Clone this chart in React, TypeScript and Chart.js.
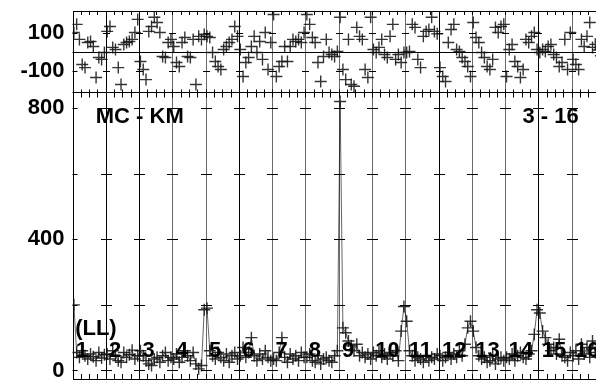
import React, { useEffect, useRef } from 'react';
import { Chart, registerables } from 'chart.js';
Chart.register(...registerables);

const SEGMENTS = 16;
const PER_SEG = 12;
const segmentLabels = ['1', '2', '3', '4', '5', '6', '7', '8', '9', '10', '11', '12', '13', '14', '15', '16'];
const titleLeft = 'MC - KM';
const titleRight = '3 - 16';
const sideNote = '(LL)';

// observed intensity, 12 samples per segment
const intensity = [
  200, 55, 40, 60, 45, 35, 50, 42, 30, 55, 38, 48,
  50, 35, 60, 45, 30, 25, 55, 40, 48, 62, 35, 45,
  60, 45, 30, 20, 15, 35, 40, 25, 45, 55, 30, 40,
  35, 50, 25, 40, 60, 45, 30, 55, 20, 5, 15, 185,
  190, 60, 45, 35, 55, 40, 30, 50, 25, 45, 55, 35,
  45, 70, 40, 55, 100, 45, 30, 50, 35, 60, 40, 30,
  35, 30, 55, 100, 40, 25, 50, 35, 45, 30, 55, 40,
  40, 50, 30, 25, 45, 20, 35, 40, 30, 25, 45, 60,
  820, 130, 115, 90, 75, 60, 80, 45, 55, 40, 50, 35,
  55, 45, 60, 40, 50, 35, 55, 45, 60, 30, 120, 195,
  150, 60, 45, 30, 40, 35, 25, 45, 30, 40, 35, 50,
  45, 30, 40, 55, 35, 50, 40, 60, 45, 80, 130, 150,
  120, 70, 45, 35, 40, 25, 30, 45, 20, 35, 40, 30,
  40, 35, 50, 30, 45, 55, 40, 35, 50, 60, 110, 185,
  175, 120, 100, 80, 60, 70, 50, 95, 45, 40, 30, 55,
  45, 60, 35, 80, 50, 70, 40, 90, 55, 45, 60, 50,
];

// residuals, 12 samples per segment
const residual = [
  102, 145, 66, -66, -82, 50, 55, 29, -134, -29, -39, -3,
  108, 134, 24, 13, -82, -171, 39, 50, 55, 66, 102, 171,
  -50, -92, -145, 108, 134, 182, 155, 102, -24, -29, 50, 66,
  29, -55, -76, 50, 76, -24, -29, 66, -171, 82, 66, 92,
  82, 76, -3, -50, -76, -92, 13, 29, 50, 66, 134, 82,
  13, -129, -55, -29, 29, 82, -3, 55, -39, 102, -92, 50,
  197, -129, -76, -50, 29, -50, 29, 66, 55, 66, 50, 102,
  197, 145, 76, 50, -55, -155, -24, 66, -3, -13, -24, 3,
  182, -92, -145, 66, -171, -180, 129, 82, 66, -92, -134, 182,
  13, -3, 24, 66, -13, -29, 82, 145, -39, -13, -55, -3,
  -3, 3, 145, 129, -39, -82, 82, 108, 118, 182, 108, 95,
  -82, -129, -155, 50, 118, 145, 13, 3, -29, -50, -76, -129,
  155, 76, 50, -3, -29, -76, -92, -39, 129, 102, 134, 145,
  -129, 13, 39, -50, -76, -134, -92, 66, 50, 82, 102, 13,
  -3, 13, 3, 29, 39, -13, -29, -76, -55, 66, -92, 102,
  -39, -66, -92, 66, 29, 82, 155, 24, 40, 10, -20, 30,
];

const botTicks = [0, 400, 800];
const botMarks = [0, 200, 400, 600, 800];
const topTicks = [-100, 100];

const xOf = (i: number) => Math.floor(i / PER_SEG) + ((i % PER_SEG) + 0.5) / PER_SEG;

const FONT = { family: '"Liberation Sans", Arial, sans-serif', weight: 'bold' as const, size: 22, lineHeight: 0.6 };

const framePlugin = {
  id: 'frame',
  beforeDatasetsDraw(chart: any) {
    const { ctx, chartArea } = chart;
    const xs = chart.scales.x;
    const yt = chart.scales.yTop;
    const yb = chart.scales.yBot;
    const L = chartArea.left, R = chartArea.right, T = chartArea.top, B = chartArea.bottom;
    const mid = Math.round(yt.bottom) + 0.5;
    ctx.save();
    ctx.lineWidth = 1;
    const dark = [true, true, false, false, true, false, false, false, false, false, true, false, false, true, false];
    for (let k = 1; k < SEGMENTS; k++) {
      const x = Math.round(xs.getPixelForValue(k)) + 0.5;
      ctx.strokeStyle = dark[k - 1] ? '#000' : '#6a6a6a';
      ctx.beginPath();
      ctx.moveTo(x, T);
      ctx.lineTo(x, B);
      ctx.stroke();
    }
    ctx.strokeStyle = '#000';
    const y0 = Math.round(yt.getPixelForValue(0)) + 0.5;
    ctx.beginPath();
    ctx.moveTo(L, y0);
    ctx.lineTo(R, y0);
    ctx.stroke();
    ctx.strokeRect(Math.round(L) + 0.5, Math.round(T) + 0.5, Math.round(R - L), Math.round(B - T));
    ctx.beginPath();
    ctx.moveTo(L, mid);
    ctx.lineTo(R, mid);
    ctx.stroke();
    ctx.beginPath();
    for (let v = 0; v <= SEGMENTS; v += 0.25) {
      const x = Math.round(xs.getPixelForValue(v)) + 0.5;
      ctx.moveTo(x, T);
      ctx.lineTo(x, T + 4);
      ctx.moveTo(x, mid - 3);
      ctx.lineTo(x, mid + 5);
      ctx.moveTo(x, B - 5);
      ctx.lineTo(x, B);
    }
    ctx.stroke();
    ctx.beginPath();
    for (const v of botMarks) {
      const y = Math.round(yb.getPixelForValue(v)) + 0.5;
      ctx.moveTo(L, y);
      ctx.lineTo(L + 5, y);
      for (let k = 1; k < SEGMENTS; k++) {
        const x = Math.round(xs.getPixelForValue(k));
        ctx.moveTo(x - 5, y);
        ctx.lineTo(x + 6, y);
      }
    }
    for (const v of topTicks) {
      const y = Math.round(yt.getPixelForValue(v)) + 0.5;
      ctx.moveTo(L, y);
      ctx.lineTo(L + 5, y);
      for (let k = 1; k < SEGMENTS; k++) {
        const x = Math.round(xs.getPixelForValue(k));
        ctx.moveTo(x - 3, y);
        ctx.lineTo(x + 4, y);
      }
    }
    ctx.stroke();
    ctx.restore();
  },
  afterDatasetsDraw(chart: any) {
    const { ctx } = chart;
    const xs = chart.scales.x;
    const yb = chart.scales.yBot;
    ctx.save();
    ctx.fillStyle = '#000';
    ctx.font = `bold ${FONT.size}px ${FONT.family}`;
    ctx.textBaseline = 'middle';
    ctx.textAlign = 'left';
    ctx.fillText(titleLeft, xs.getPixelForValue(0.7), yb.getPixelForValue(773));
    ctx.fillText(titleRight, xs.getPixelForValue(13.52), yb.getPixelForValue(773));
    ctx.fillText(sideNote, xs.getPixelForValue(0.08), yb.getPixelForValue(128));
    segmentLabels.forEach((s, k) => {
      ctx.fillText(s, xs.getPixelForValue(k + 0.1), yb.getPixelForValue(61));
    });
    ctx.restore();
  },
};

const noPad = (s: any) => {
  s.width = 72.5;
  s.paddingTop = 0;
  s.paddingBottom = 0;
};

export default function App() {
  const ref = useRef<HTMLCanvasElement>(null);
  useEffect(() => {
    if (!ref.current) return;
    const chart = new Chart(ref.current, {
      type: 'scatter',
      data: {
        datasets: [
          {
            label: 'intensity',
            data: intensity.map((v, i) => ({ x: xOf(i), y: v })),
            yAxisID: 'yBot',
            showLine: true,
            borderColor: 'rgba(0,0,0,0.6)',
            borderWidth: 1,
            pointStyle: 'cross',
            pointRadius: 6,
            pointBorderWidth: 1.4,
            pointBorderColor: 'rgba(17,17,17,0.85)',
          },
          {
            label: 'residual',
            data: residual.map((v, i) => ({ x: xOf(i), y: v })),
            yAxisID: 'yTop',
            showLine: false,
            pointStyle: 'cross',
            pointRadius: 6,
            pointBorderWidth: 1.4,
            pointBorderColor: 'rgba(17,17,17,0.85)',
          },
        ],
      },
      options: {
        responsive: false,
        animation: false,
        devicePixelRatio: 1,
        layout: { autoPadding: false, padding: { left: 0, top: 11, right: 35, bottom: 3 } },
        plugins: { legend: { display: false }, tooltip: { enabled: false } },
        scales: {
          x: { type: 'linear', display: false, min: 0, max: SEGMENTS },
          yBot: {
            type: 'linear',
            position: 'left',
            stack: 'v',
            stackWeight: 287,
            min: -26,
            max: 849,
            grid: { display: false, drawTicks: false },
            border: { display: false },
            ticks: { padding: 8, color: '#000', font: FONT, autoSkip: false },
            afterBuildTicks: (s: any) => { s.ticks = botTicks.map((v) => ({ value: v })); },
            afterFit: noPad,
          },
          yTop: {
            type: 'linear',
            position: 'left',
            stack: 'v',
            stackWeight: 81,
            min: -210,
            max: 215,
            grid: { display: false, drawTicks: false },
            border: { display: false },
            ticks: { padding: 8, color: '#000', font: FONT, autoSkip: false },
            afterBuildTicks: (s: any) => { s.ticks = topTicks.map((v) => ({ value: v })); },
            afterFit: noPad,
          },
        },
      },
      plugins: [framePlugin],
    });
    return () => chart.destroy();
  }, []);
  return (
    <div style={{ position: 'absolute', left: 0, top: 0, width: 596, height: 382, overflow: 'hidden', background: '#fff' }}>
      <canvas ref={ref} width={640} height={382} style={{ display: 'block' }} />
    </div>
  );
}
